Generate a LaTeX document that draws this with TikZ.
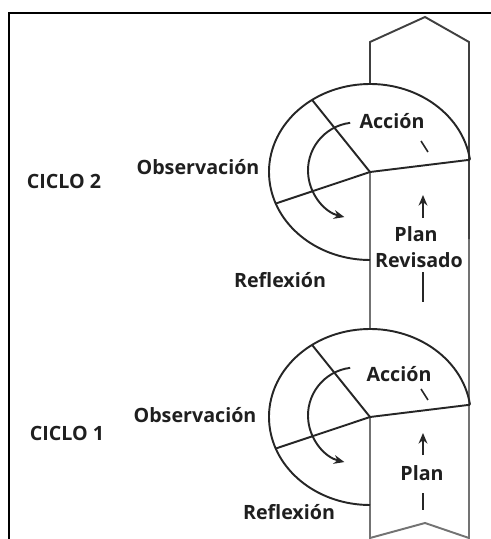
\documentclass[tikz,border=0pt]{standalone}
\usepackage{fontspec}
\setmainfont{Open Sans}
\usetikzlibrary{arrows.meta}
\tikzset{
  lbl/.style={font=\fontsize{11.2}{14}\selectfont\bfseries, text=black!88, inner sep=0pt},
  rim/.style={line width=1.1pt, black!85},
  col/.style={line width=1.1pt, black!55},
  tip/.style={-{Stealth[length=6pt,width=5pt]}},
}
\begin{document}
\begin{tikzpicture}[x=0.02cm, y=0.02cm]
    \useasboundingbox (0,0) rectangle (491,539);
    \draw[line width=1.4pt] (9,0) -- (9,526) -- (491,526);

    \coordinate (c2) at (370,367);
    \coordinate (c1) at (370,122);

    % columna del plan
    \draw[col] (469,300) -- (469,1) -- (425,16) -- (370,1) -- (c1);
    \draw[col] (c2) -- (370,210);
    \draw[rim, black!75] (370,455) -- (370,497) -- (425,522) -- (469,497) -- (469,300);

    % ciclo 2
    \path (c2) ++(8:101 and 88) coordinate (e2);
    \draw[rim] (e2) arc[start angle=8, end angle=270, x radius=101, y radius=88];
    \draw[rim] (c2) -- (e2);
    \draw[rim] (c2) -- ++(125:101 and 88);
    \draw[rim] (c2) -- ++(201:101 and 88);
    \draw[rim, tip] (c2) ++(-14,1.5) ++(97:48) arc[start angle=97, end angle=256, radius=48];
    \draw[rim, line width=0.9pt] (c2) ++(51,31) -- ++(7,-11);

    \node[lbl] (acc2) at (392,418) {Acción};
    \node[lbl] (obs2) at (198,372) {Observación};
    \node[lbl] (ciclo2) at (64,358) {CICLO 2};
    \node[lbl] (ref2) at (280,259) {Reflexión};
    \node[lbl] (plan2) at (416,305) {Plan};
    \node[lbl] (rev2) at (419,279) {Revisado};
    \coordinate (up2) at (423,344);
    \coordinate (lo2) at (423,237);
    \draw[rim, line width=1.4pt, tip] (423,321) -- (up2);
    \draw[rim, line width=1.4pt] (423,267) -- (lo2);

    % ciclo 1
    \path (c1) ++(8:101 and 88) coordinate (e1);
    \draw[rim] (e1) arc[start angle=8, end angle=270, x radius=101, y radius=88];
    \draw[rim] (c1) -- (e1);
    \draw[rim] (c1) -- ++(125:101 and 88);
    \draw[rim] (c1) -- ++(201:101 and 88);
    \draw[rim, tip] (c1) ++(-14,1.5) ++(97:48) arc[start angle=97, end angle=256, radius=48];
    \draw[rim, line width=0.9pt] (c1) ++(51,28) -- ++(7,-11);

    \node[lbl] (acc1) at (399,165) {Acción};
    \node[lbl] (obs1) at (195,124) {Observación};
    \node[lbl] (ciclo1) at (67,106) {CICLO 1};
    \node[lbl] (ref1) at (289,27) {Reflexión};
    \node[lbl] (plan1) at (422,66) {Plan};
    \coordinate (up1) at (423,106);
    \coordinate (lo1) at (423,29);
    \draw[rim, line width=1.4pt, tip] (423,84) -- (up1);
    \draw[rim, line width=1.4pt] (423,46) -- (lo1);
\end{tikzpicture}
\end{document}
